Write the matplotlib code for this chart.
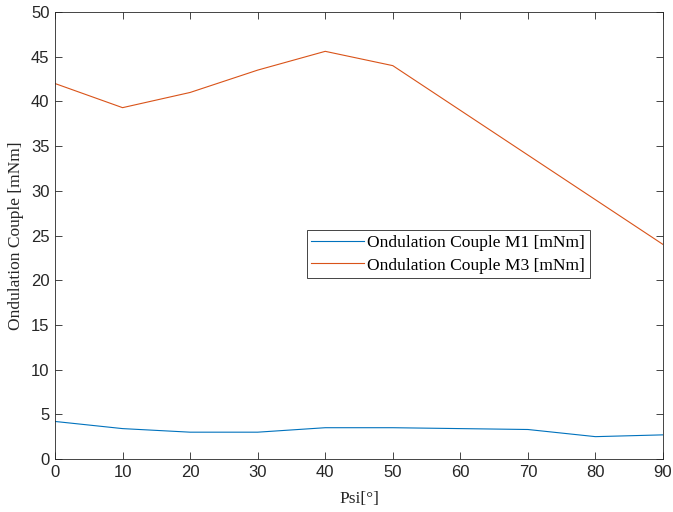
import numpy as np
import matplotlib
matplotlib.use("Agg")
import matplotlib.pyplot as plt

#%% Data
psi = [0, 10, 20, 30, 40, 50, 60, 70, 80, 90]
m1 = [4.2, 3.4, 3.0, 3.0, 3.5, 3.5, 3.4, 3.3, 2.5, 2.7]
m3 = [42.0, 39.3, 41.0, 43.5, 45.6, 44.0, 39.0, 34.0, 29.0, 24.0]

#%% Plot
fig = plt.figure(figsize=(6.73, 5.12), dpi=100)
ax = fig.add_axes([55/673, 1 - 459/512, 608/673, 447/512])

ax.plot(psi, m1, color="#0072BD", lw=0.8, label="Ondulation Couple M1 [mNm]")
ax.plot(psi, m3, color="#D95319", lw=0.8, label="Ondulation Couple M3 [mNm]")

ax.set_xlim(0, 90)
ax.set_ylim(0, 50)
ax.set_xticks(np.arange(0, 91, 10))
ax.set_yticks(np.arange(0, 51, 5))
ax.tick_params(direction="in", top=True, right=True, length=5, width=0.6,
               labelsize=12, colors="#262626", pad=4)
for lab in ax.get_xticklabels() + ax.get_yticklabels():
    lab.set_family("Liberation Sans")
for s in ax.spines.values():
    s.set_linewidth(0.6)
    s.set_color("#262626")

ax.set_xlabel("Psi[°]", family="Liberation Serif", fontsize=12.5, color="#262626", labelpad=8)
ax.set_ylabel("Ondulation Couple [mNm]", family="Liberation Serif", fontsize=12.5, color="#262626", labelpad=5)

leg = ax.legend(loc="upper left", bbox_to_anchor=(0.4145, 0.5123), borderaxespad=0,
                prop={"family": "Liberation Serif", "size": 12.6}, fancybox=False,
                edgecolor="#262626", framealpha=1, handlelength=3.0,
                borderpad=0.25, labelspacing=0.38, handletextpad=0.2)
leg.get_frame().set_linewidth(0.6)

fig.savefig("out.png", dpi=100)
